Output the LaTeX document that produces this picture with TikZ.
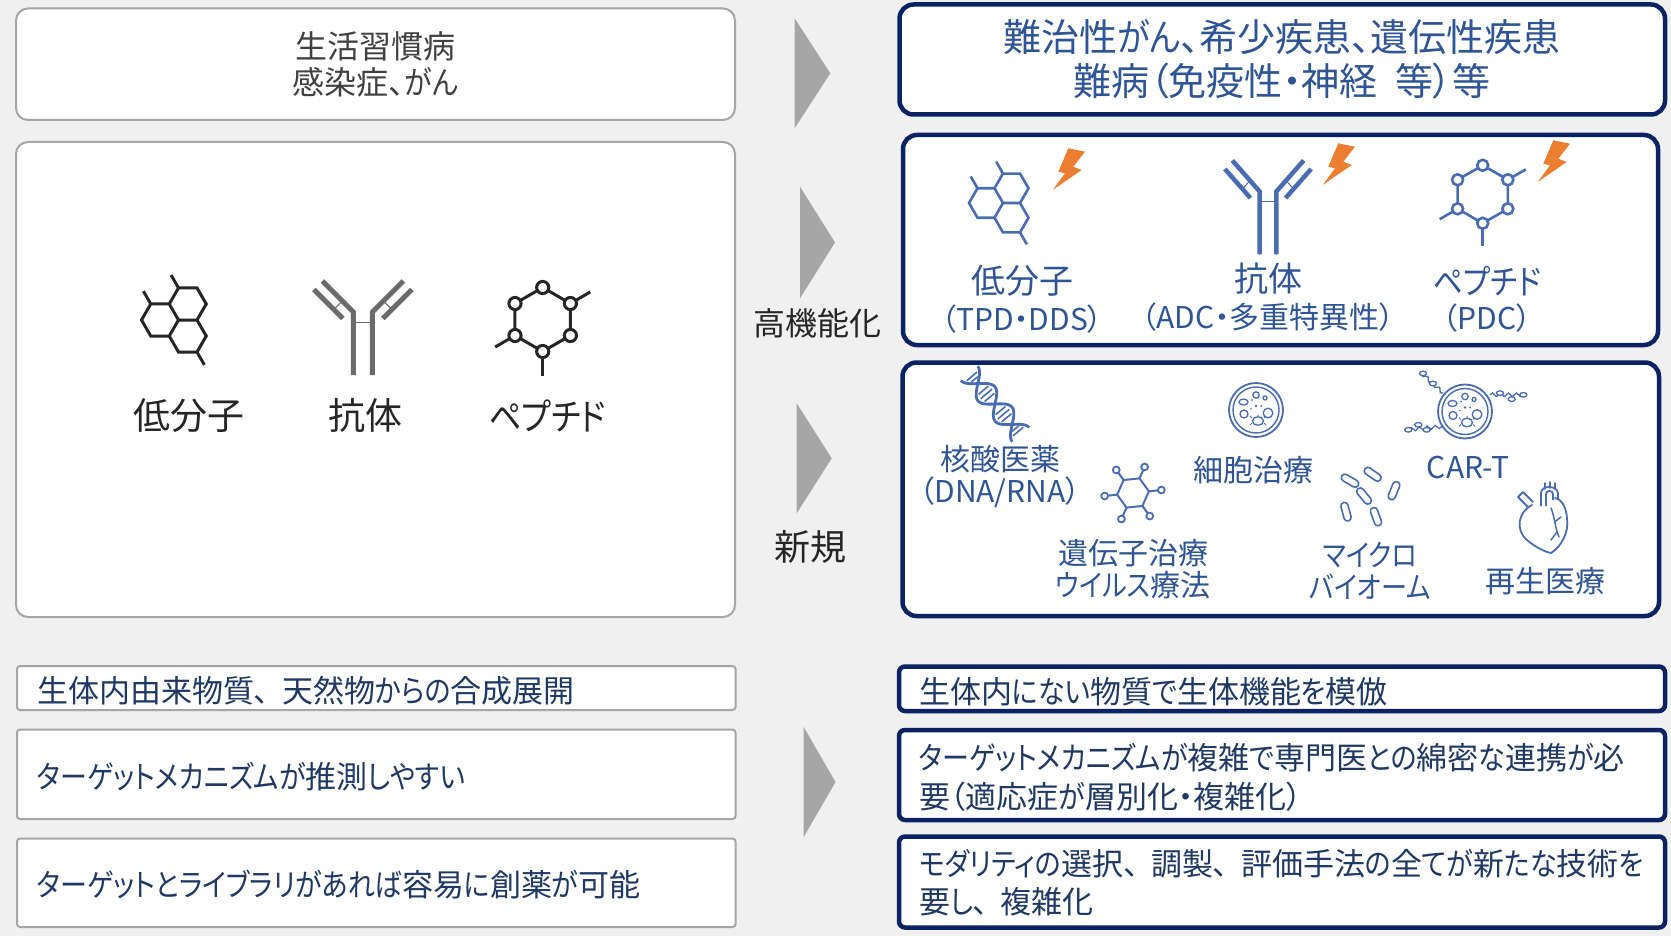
\documentclass[tikz,border=0pt]{standalone}
\usepackage{fontspec}
\usepackage{graphicx}
\setmainfont{Noto Sans CJK JP}[RawFeature=+palt]
\usetikzlibrary{decorations.pathmorphing}

% kana runs are set a little narrower than kanji
\newcommand\kn[1]{\scalebox{0.87}[1]{#1}}
% ideographic comma with its full-width trailing space
\newcommand\tk{、\hspace{0.4em}}

\definecolor{bg}{HTML}{F0F0F0}
\definecolor{navy}{HTML}{0B2263}
\definecolor{txtblue}{HTML}{2F5597}
\definecolor{icoblue}{HTML}{4A6CB2}
\definecolor{navytxt}{HTML}{1F3864}
\definecolor{boxgray}{HTML}{A6A6A6}
\definecolor{arrowgray}{HTML}{A6A6A6}
\definecolor{boltorange}{HTML}{ED7D31}
\definecolor{darktxt}{HTML}{262626}
\definecolor{graytxt}{HTML}{404040}
\definecolor{abgray}{HTML}{6B6B6B}

\newcommand\fsz[2]{\fontsize{#1pt}{#2pt}\selectfont}

\tikzset{
  leftbox/.style={draw=boxgray, line width=2pt, fill=white, rounded corners=12pt, inner sep=0pt},
  rightbox/.style={draw=navy, line width=4.5pt, fill=white, rounded corners=14pt, inner sep=0pt},
  leftrow/.style={draw=boxgray, line width=2pt, fill=white, rounded corners=3pt, inner sep=0pt},
  rightrow/.style={draw=navy, line width=4.5pt, fill=white, rounded corners=6pt, inner sep=0pt},
  chevron/.style={fill=arrowgray},
  txt/.style={inner sep=0pt, align=center},
  rowtxt/.style={inner sep=0pt, anchor=west, align=left, text=navytxt, font=\fsz{31}{38.5}},
  iconlbl/.style={inner sep=0pt, align=center, text=txtblue, font=\fsz{30}{31.5}},
  % fused three-ring molecule, unit = bond length
  molecule/.pic={
    \draw[line join=miter] (0,0)--(-0.5,0.866)--(-1.5,0.866)--(-2,0)--(-1.5,-0.866)--(-0.5,-0.866)--cycle;
    \draw[line join=miter] (0,0)--(1,0)--(1.5,-0.866)--(1,-1.732)--(0,-1.732)--(-0.5,-0.866);
    \draw[line join=miter] (1,0)--(1.5,0.866)--(1,1.732)--(0,1.732)--(-0.5,0.866);
    \draw (-1.5,-0.866)--(-1.9,-1.56);
    \draw (0,-1.732)--(-0.4,-2.43);
    \draw (1,1.732)--(1.4,2.43);
  },
  % cyclic peptide, unit = ring radius
  peptide/.pic={
    \draw (-0.866,0.5)--++(-0.62,0.36);
    \draw (0.866,-0.5)--++(0.62,-0.36);
    \draw (0,1)--(0,1.78);
    \draw (0,-1)--(0.866,-0.5)--(0.866,0.5)--(0,1)--(-0.866,0.5)--(-0.866,-0.5)--cycle;
    \foreach \p in {(0,-1),(0.866,-0.5),(0.866,0.5),(0,1),(-0.866,0.5),(-0.866,-0.5)}
      \draw[fill=white] \p circle[radius=0.19];
  },
  % Y-shaped antibody, argument = bar width
  antibody/.pic={
    \draw[line width=#1pt, line join=miter] (-40.5,-31)--(-9.5,0)--(-9.5,63);
    \draw[line width=#1pt, line join=miter] (40.5,-31)--(9.5,0)--(9.5,63);
    \draw[line width=#1pt] (-20,6.5)--(-49,-22.5);
    \draw[line width=#1pt] (20,6.5)--(49,-22.5);
    \draw[line width=1pt] (-20.5,-11)--(-29,-2.5);
    \draw[line width=1pt] (20.5,-11)--(29,-2.5);
    \draw[line width=1pt] (-9.5,10)--(9.5,10);
  },
  bolt/.pic={
    \fill (-2.7,-20.7)--(14,-17.3)--(2.3,-2.3)--(10.7,1)--(-18.3,21)--(-6,4.3)--(-12.7,2.7)--cycle;
  },
  dna/.pic={
    \begin{scope}[rotate=-50]
      \draw[line width=2.8pt] plot[domain=-40:40, samples=71, smooth] (\x,{11*sin(6.75*\x)});
      \draw[line width=2.8pt] plot[domain=-40:40, samples=71, smooth] (\x,{-11*sin(6.75*\x)});
      \foreach \u in {-36,-32,-18,-13.3,-8.6,8.6,13.3,18,32,36}
        \draw[line width=1.6pt] (\u,{7.5*sin(6.75*\u)})--(\u,{-7.5*sin(6.75*\u)});
    \end{scope}
  },
  virus/.pic={
    \draw[line width=2pt, line join=round] (-6:16)--(54:16)--(114:16)--(174:16)--(234:16)--(294:16)--cycle;
    \foreach \a in {-6,54,114,174,234,294} {
      \draw[line width=2pt] (\a:16)--(\a:25);
      \draw[line width=1.8pt, fill=white] (\a:28.5) circle[radius=3.4];
    }
  },
  cell/.pic={
    \draw[line width=1.8pt, fill=white] (0,0) circle[radius=27];
    \draw[line width=1.4pt] (0,0) circle[radius=23];
    \draw[line width=1.3pt] (-12.5,-8) ellipse[x radius=4.5, y radius=3];
    \draw[line width=1.3pt] (0,-15) circle[radius=3.2];
    \draw[line width=1.3pt] (9,-12) circle[radius=2];
    \draw[line width=1.3pt] (-12,4) circle[radius=4];
    \draw[line width=1.3pt] (12,3) circle[radius=4.8];
    \draw[line width=1.3pt] (2,11) ellipse[x radius=5.5, y radius=4.3];
    \draw[line width=1pt] (-4,8)--(-6,6) (-4,13)--(-6,15) (8,8)--(10,6) (8,13)--(10,15) (2,6.7)--(2,4.5);
    \fill (0,-4) circle[radius=1.4];
    \fill (-4,-10) circle[radius=1];
    \fill (5,-4) circle[radius=1];
    \fill (-5,-1) circle[radius=0.9];
  },
  capsule/.pic={
    \draw[line width=1.6pt, rounded corners=3.5pt] (-9.5,-3.6) rectangle (9.5,3.6);
  },
  heart/.pic={
    \draw[line width=1.8pt, line join=round, line cap=round]
      (-10,-15) .. controls (-24,-8) and (-27,10) .. (-15,20)
      .. controls (-7,27) and (3,32) .. (9,33)
      .. controls (20,26) and (27,12) .. (25,-2)
      .. controls (24,-14) and (19,-21) .. (13,-22);
    \draw[line width=1.8pt, line join=round] (-9,-18)--(-19,-28)--(-24,-23)--(-14,-13);
    \draw[line width=1.8pt, line join=round] (-1,-14)--(-1,-27) .. controls (-1,-35) and (15,-35) .. (16,-27)--(16,-21);
    \draw[line width=1.8pt, line join=round] (4,-14)--(4,-26) .. controls (4,-30) and (11,-30) .. (11,-26)--(11,-20);
    \draw[line width=1.6pt, line cap=round] (3,-31)--(3,-37) (8,-32)--(8,-38) (13,-31)--(13,-37);
    \draw[line width=1.5pt, line cap=round] (9,-12) .. controls (13,-2) and (13,8) .. (17,17);
    \draw[line width=1.5pt, line cap=round] (12.5,2)--(19,-3) (15,12)--(9,20);
  },
}

\begin{document}
\begin{tikzpicture}[x=1pt, y=-1pt]
\useasboundingbox (0,0) rectangle (1671,936);
\fill[bg] (0,0) rectangle (1671,936);

% ---------- frames ----------
\node[leftbox, minimum width=719pt, minimum height=111.5pt] (dtop) at (375.5,64.25) {};
\node[leftbox, minimum width=719pt, minimum height=475pt] (dbig) at (375.5,379.5) {};
\node[rightbox, minimum width=765.5pt, minimum height=110pt] (gtop) at (1282.25,59.5) {};
\node[rightbox, minimum width=755pt, minimum height=210pt] (ghi) at (1280.5,240) {};
\node[rightbox, minimum width=756.5pt, minimum height=253.5pt] (gnew) at (1280.75,489.25) {};

\node[leftrow, minimum width=718.5pt, minimum height=44pt] (lrowa) at (376.25,688) {};
\node[leftrow, minimum width=718.5pt, minimum height=89.5pt] (lrowb) at (376.25,774.25) {};
\node[leftrow, minimum width=718.5pt, minimum height=88.5pt] (lrowc) at (376.25,882.75) {};
\node[rightrow, minimum width=766pt, minimum height=44.5pt] (rrowa) at (1282,688.75) {};
\node[rightrow, minimum width=766pt, minimum height=90pt] (rrowb) at (1282,775) {};
\node[rightrow, minimum width=766pt, minimum height=91pt] (rrowc) at (1282,882) {};

% ---------- chevrons ----------
\fill[chevron] (794.6,18.3)--(830.3,73.3)--(794.6,128.3)--cycle;
\fill[chevron] (800,186.7)--(835,242.5)--(800,298.3)--cycle;
\fill[chevron] (796.7,403.3)--(831.7,458.3)--(796.7,513.3)--cycle;
\fill[chevron] (803.5,726.7)--(835.5,782)--(803.5,837.3)--cycle;

% ---------- top row ----------
\node[txt, text=graytxt, font=\fsz{32}{36}] (dtoptxt) at (375.5,64) {生活習慣病\\感染症、\kn{がん}};
\node[txt, text=txtblue, font=\fsz{38}{44}] (gtoptxt) at (1282,59) {難治性\kn{がん}、希少疾患、遺伝性疾患\\難病（免疫性・神経\hspace{0.45em}等）等};

% ---------- classic modalities ----------
\pic[color=darktxt, line width=3pt, scale=18.5] at (178.5,320) {molecule};
\pic[color=abgray] at (362.8,312) {antibody=5};
\pic[color=darktxt, line width=3pt, scale=32] at (542.7,319.5) {peptide};
\node[txt, text=darktxt, font=\fsz{37}{40}] (dsmall) at (189,415.5) {低分子};
\node[txt, text=darktxt, font=\fsz{37}{40}] (dab) at (365,415.5) {抗体};
\node[txt, text=darktxt, font=\fsz{37}{40}] (dpep) at (547.5,415.5) {\kn{ペプチド}};

\node[txt, text=darktxt, font=\fsz{32}{36}] (lblhi) at (817.5,323) {高機能化};
\node[txt, text=darktxt, font=\fsz{36}{40}] (lblnew) at (810,547) {新規};

% ---------- enhanced modalities ----------
\pic[color=icoblue, line width=2.6pt, scale=17] at (1003,203) {molecule};
\pic[color=icoblue, xscale=0.88] at (1268,191.5) {antibody=4.5};
\pic[color=icoblue, line width=2.6pt, scale=29] at (1482.7,194.3) {peptide};
\pic[color=boltorange] at (1071,169) {bolt};
\pic[color=boltorange] at (1341,164) {bolt};
\pic[color=boltorange] at (1556,161) {bolt};

\node[iconlbl, font=\fsz{34}{40}] (hsmall) at (1022,281) {低分子};
\node[iconlbl] (hsmallsub) at (1022,319.5) {（TPD・DDS）};
\node[iconlbl, font=\fsz{34}{40}] (hab) at (1268,279) {抗体};
\node[iconlbl] (habsub) at (1268,317.5) {（ADC・多重特異性）};
\node[iconlbl, font=\fsz{34}{40}] (hpep) at (1487,281) {\kn{ペプチド}};
\node[iconlbl] (hpepsub) at (1487,318.5) {（PDC）};

% ---------- new modalities ----------
\pic[color=icoblue] at (995,404) {dna};
\pic[color=icoblue] at (1133,493) {virus};
\pic[color=icoblue] at (1256,410) {cell};
\begin{scope}[shift={(1465,411.5)}, color=icoblue]
  \foreach \a/\b in {{(-21.7,-18.4)}/{(-43.3,-38.4)}, {(25,-16.7)}/{(58.3,-16.7)}, {(-23.3,15)}/{(-58.3,18.3)}}
    \draw[line width=1.3pt, decorate, decoration={snake, amplitude=1.8pt, segment length=8pt}] \a -- \b;
  \foreach \p in {(-32,-28),(-42,-38),(35,-18.4),(46.7,-12.4),(58.3,-16.7),(-38.3,18.3),(-46.7,13.3),(-56.7,18.3)}
    \draw[line width=1.3pt, fill=white] \p ellipse[x radius=3.6, y radius=2.3];
\end{scope}
\pic[color=icoblue] at (1465,411.5) {cell};
\pic[color=icoblue, rotate=-30] at (1350,480.7) {capsule};
\pic[color=icoblue, rotate=-50] at (1364,496) {capsule};
\pic[color=icoblue, rotate=-70] at (1376,516.7) {capsule};
\pic[color=icoblue, rotate=-35] at (1372.7,474.3) {capsule};
\pic[color=icoblue, rotate=68] at (1394,490.7) {capsule};
\pic[color=icoblue, rotate=-75] at (1346,511.7) {capsule};
\pic[color=icoblue] at (1542,520) {heart};

\node[iconlbl] (nnuc) at (1000,476.5) {核酸医薬\\（DNA/RNA）};
\node[iconlbl] (ngene) at (1133,569) {遺伝子治療\\\kn{ウイルス}療法};
\node[iconlbl] (ncell) at (1253,470) {細胞治療};
\node[iconlbl] (ncart) at (1468,468) {CAR-T};
\node[iconlbl] (nmicro) at (1370,571) {\kn{マイクロ}\\\kn{バイオーム}};
\node[iconlbl] (nregen) at (1545,581) {再生医療};

% ---------- comparison rows ----------
\node[rowtxt] (lta) at (37,690.7) {生体内由来物質\tk 天然物\kn{からの}合成展開};
\node[rowtxt] (ltb) at (37,776.7) {\kn{ターゲットメカニズムが}推測\kn{しやすい}};
\node[rowtxt] (ltc) at (37,885) {\kn{ターゲットとライブラリがあれば}容易\kn{に}創薬\kn{が}可能};
\node[rowtxt] (rta) at (919,691.7) {生体内\kn{にない}物質\kn{で}生体機能\kn{を}模倣};
\node[rowtxt] (rtb) at (919,777.5) {\kn{ターゲットメカニズムが}複雑\kn{で}専門医\kn{との}綿密\kn{な}連携\kn{が}必\\要（適応症\kn{が}層別化・複雑化）};
\node[rowtxt] (rtc) at (919,882.8) {\kn{モダリティの}選択\tk 調製\tk 評価手法\kn{の}全\kn{てが}新\kn{たな}技術\kn{を}\\要\kn{し}\tk 複雑化};
\end{tikzpicture}
\end{document}
